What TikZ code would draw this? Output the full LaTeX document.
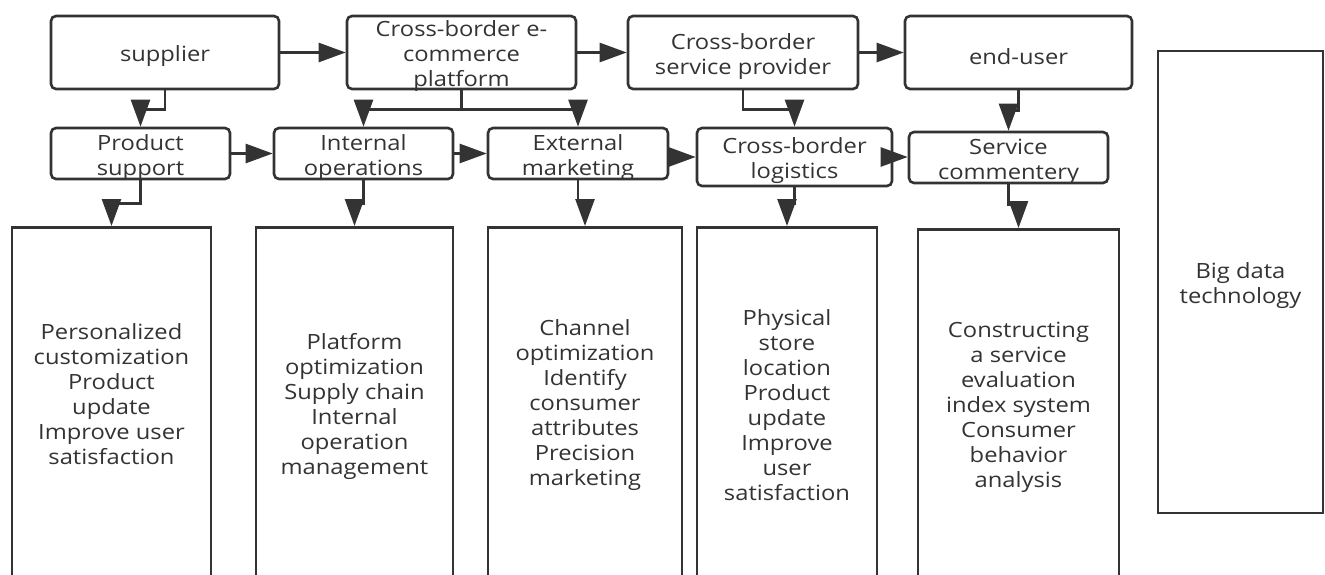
\documentclass[tikz,border=0pt]{standalone}
\usepackage{fontspec}
\setmainfont{Open Sans}[FakeStretch=1.13]
\usetikzlibrary{arrows.meta}
\definecolor{ink}{HTML}{333333}
\begin{document}
\begin{tikzpicture}[x=1pt,y=-1pt,
  lw/.style={line width=2.6pt},
  txt/.style={text=ink, align=center, font=\fontsize{21}{25}\selectfont},
  box/.style={draw=ink, lw, rounded corners=5pt, inner sep=0pt, label={[txt, yshift=-4pt]center:{#1}}},
  tallbox/.style={draw=ink, lw, inner sep=0pt, anchor=north, minimum height=390pt},
  arr/.style={draw=ink, lw, -{Triangle[length=27pt,width=19pt]}},
]
\fill[white, use as bounding box] (0,0) rectangle (1325,575);
\clip (0,0) rectangle (1325,575);

% top row
\node[box={supplier}, minimum width=228pt, minimum height=73pt] (supplier) at (165,52.5) {};
\node[box={Cross-border e-\\commerce\\platform}, minimum width=229pt, minimum height=73pt] (platform) at (461.5,52.5) {};
\node[box={Cross-border\\service provider}, minimum width=230pt, minimum height=73pt] (provider) at (743,52.5) {};
\node[box={end-user}, minimum width=227pt, minimum height=73pt] (enduser) at (1018.5,52.5) {};

% middle row
\node[box={Product\\support}, minimum width=179pt, minimum height=51pt] (product) at (140.5,153.5) {};
\node[box={Internal\\operations}, minimum width=179pt, minimum height=51pt] (internal) at (363.5,153.5) {};
\node[box={External\\marketing}, minimum width=180pt, minimum height=51pt] (external) at (578,153.5) {};
\node[box={Cross-border\\logistics}, minimum width=195pt, minimum height=58pt] (logistics) at (794.5,157) {};
\node[box={Service\\commentery}, minimum width=199pt, minimum height=51pt] (service) at (1008.5,157.5) {};

% big data
\node[draw=ink, lw, inner sep=0pt, minimum width=165pt, minimum height=462pt,
  label={[name=t0, txt, yshift=-4pt]center:{Big data\\technology}}] (bigdata) at (1240.5,282) {};

% bottom boxes (cut by the lower edge)
\node[tallbox, minimum width=199pt, label={[name=t1, txt, yshift=28pt]center:{Personalized\\customization\\Product\\update\\Improve user\\satisfaction}}] (b1) at (111.5,226) {};
\node[tallbox, minimum width=197pt, label={[name=t2, txt, yshift=16pt]center:{Platform\\optimization\\Supply chain\\Internal\\operation\\management}}] (b2) at (354.5,226) {};
\node[tallbox, minimum width=194pt, label={[name=t3, txt, yshift=17pt]center:{Channel\\optimization\\Identify\\consumer\\attributes\\Precision\\marketing}}] (b3) at (585,226) {};
\node[tallbox, minimum width=180pt, label={[name=t4, txt, yshift=17pt]center:{Physical\\store\\location\\Product\\update\\Improve\\user\\satisfaction}}] (b4) at (787,226) {};
\node[tallbox, minimum width=201pt, label={[name=t5, txt, yshift=17pt]center:{Constructing\\a service\\evaluation\\index system\\Consumer\\behavior\\analysis}}] (b5) at (1018.5,228) {};

% top row arrows
\draw[arr] (supplier) -- (platform);
\draw[arr] (platform) -- (provider);
\draw[arr] (provider) -- (enduser);

% top to middle
\draw[arr] (supplier.south) -- ++(0,19) -| (product.north);
\draw[arr] (platform.south) -- ++(0,19) -| (internal.north);
\draw[arr] (platform.south) -- ++(0,19) -| (external.north);
\draw[arr] (provider.south) -- ++(0,19) -| (logistics.north);
\draw[arr] (enduser.south) -- ++(0,20) -| (service.north);

% middle row arrows
\draw[arr] (product) -- (internal);
\draw[arr] (internal) -- (external);
\draw[arr] (logistics.west -| external.east) -- (logistics.west);
\draw[arr] (logistics.east) -- (logistics.east -| service.west);

% middle to bottom
\draw[arr] (product.south) -- ++(0,23) -| (b1.north);
\draw[arr] (internal.south) -- ++(0,23) -| (b2.north);
\draw[arr] (external.south) -- ++(0,23) -| (b3.north);
\draw[arr] (logistics.south) -- ++(0,16) -| (b4.north);
\draw[arr] (service.south) -- ++(0,20) -| (b5.north);
\end{tikzpicture}
\end{document}
